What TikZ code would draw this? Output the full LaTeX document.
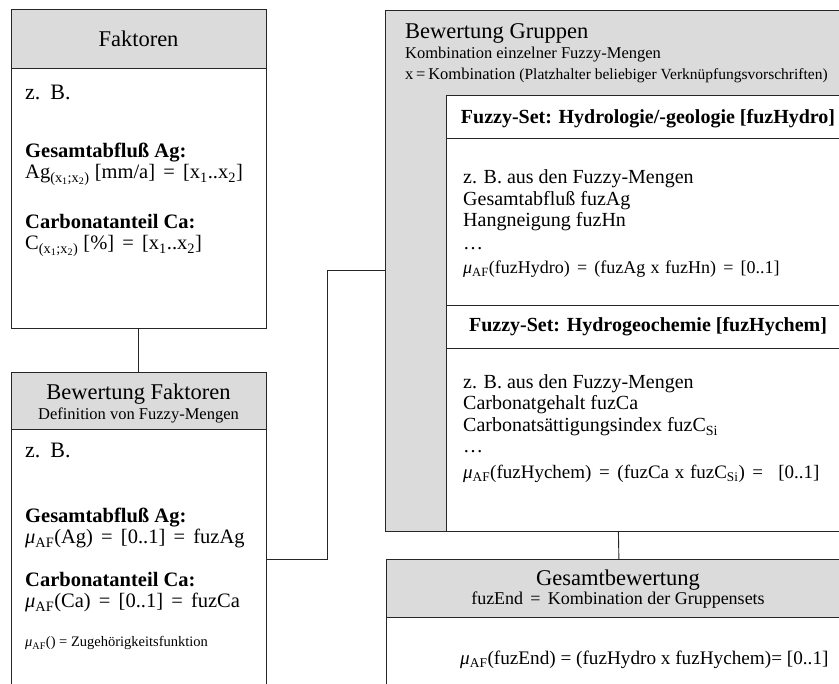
\documentclass[tikz,border=0pt]{standalone}
\usepackage{fontspec}
\setmainfont{Liberation Serif}
\usetikzlibrary{positioning}

\newcommand{\muaf}{\textit{μ}\textsubscript{AF}}
\newcommand{\xrange}{[x\textsubscript{1}..x\textsubscript{2}]}
\newcommand{\xsub}{\textsubscript{(x\textsubscript{1};x\textsubscript{2})}}
\newcommand{\eq}{\hspace{0.4em}=\hspace{0.4em}}
\newcommand{\kx}{\hspace{0.3em}x\hspace{0.3em}}

\begin{document}
\begin{tikzpicture}[x=1pt,y=-1pt,
  box/.style={draw=black!85,line width=0.8pt,anchor=north west,inner sep=0pt},
  headbox/.style={box,fill=black!14},
  setbox/.style={box,fill=white},
  title/.style={anchor=base,inner sep=0pt,font=\fontsize{22.5}{26}\selectfont},
  subtitle/.style={anchor=base,inner sep=0pt,font=\fontsize{16.5}{19}\selectfont},
  line/.style={anchor=base west,inner sep=0pt,font=\fontsize{20.5}{24}\selectfont},
  bline/.style={line,font=\fontsize{20.5}{24}\selectfont\bfseries},
  sline/.style={line,font=\fontsize{20}{24}\selectfont},
  mline/.style={line,font=\fontsize{18}{21}\selectfont},
  tiny/.style={line,font=\fontsize{14.5}{17}\selectfont},
  sethead/.style={anchor=base,inner sep=0pt,font=\fontsize{20}{24}\selectfont\bfseries},
  link/.style={draw=black!85,line width=0.9pt}]

\useasboundingbox (0,0) rectangle (839,684);
\clip (0,0) rectangle (839,684);

% Faktoren
\node[box,minimum width=255pt,minimum height=319pt] (fak) at (11,9) {};
\node[headbox,minimum width=255pt,minimum height=59pt] (fakhead) at (11,9) {};
\node[title] (faktitle) at (138.5,47) {Faktoren};
\node[line,font=\fontsize{22}{26}\selectfont] (fakzb) at (25,100) {z.\hspace{0.45em}B.};
\node[bline] (fakag) at (25,158) {Gesamtabfluß Ag:};
\node[line] (fakagval) at (25,179) {Ag\xsub{} [mm/a]\eq\xrange};
\node[bline] (fakca) at (25,229) {Carbonatanteil Ca:};
\node[line] (fakcaval) at (25,250) {C\xsub{} [\%]\eq\xrange};

% Bewertung Faktoren
\node[box,minimum width=255pt,minimum height=340pt] (bewfak) at (11,372) {};
\node[headbox,minimum width=255pt,minimum height=57pt] (bewfakhead) at (11,372) {};
\node[title] (bewfaktitle) at (138.5,400) {Bewertung Faktoren};
\node[subtitle] (bewfaksub) at (138.5,420) {Definition von Fuzzy-Mengen};
\node[line,font=\fontsize{22}{26}\selectfont] (bewzb) at (25,458) {z.\hspace{0.45em}B.};
\node[bline] (bewag) at (25,523) {Gesamtabfluß Ag:};
\node[line] (bewagval) at (25,544) {\muaf(Ag)\eq[0..1]\eq fuzAg};
\node[bline] (bewca) at (25,587) {Carbonatanteil Ca:};
\node[line] (bewcaval) at (25,608) {\muaf(Ca)\eq[0..1]\eq fuzCa};
\node[tiny] (bewmu) at (25,647) {\muaf() = Zugehörigkeitsfunktion};

% Bewertung Gruppen
\node[headbox,minimum width=466pt,minimum height=521pt] (gruppen) at (385,10) {};
\node[title,anchor=base west] (gruppentitle) at (405,39) {Bewertung Gruppen};
\node[subtitle,anchor=base west] (gruppensub) at (405,59) {Kombination einzelner Fuzzy-Mengen};
\node[subtitle,anchor=base west] (gruppenx) at (405,80)
  {x\,=\,Kombination {\fontsize{15.5}{18}\selectfont(Platzhalter beliebiger Verknüpfungsvorschriften)}};

% Fuzzy-Set Hydrologie
\node[setbox,minimum width=405pt,minimum height=210pt] (hydro) at (446,95) {};
\node[box,minimum width=405pt,minimum height=43pt] (hydrohead) at (446,95) {};
\node[sethead] (hydrotitle) at (648,124) {Fuzzy-Set: Hydrologie/-geologie [fuzHydro]};
\node[sline] (hydrozb) at (463,184) {z. B. aus den Fuzzy-Mengen};
\node[sline] (hydroag) at (463,206) {Gesamtabfluß fuzAg};
\node[sline] (hydrohn) at (463,227) {Hangneigung fuzHn};
\node[sline] (hydrodots) at (463,250) {\dots};
\node[mline] (hydromu) at (463,274) {\muaf(fuzHydro)\eq(fuzAg\kx fuzHn)\eq[0..1]};

% Fuzzy-Set Hydrogeochemie
\node[setbox,minimum width=405pt,minimum height=226pt] (hychem) at (446,305) {};
\node[box,minimum width=405pt,minimum height=43pt] (hychemhead) at (446,305) {};
\node[sethead] (hychemtitle) at (648,332) {Fuzzy-Set: Hydrogeochemie [fuzHychem]};
\node[sline] (hychemzb) at (463,389) {z. B. aus den Fuzzy-Mengen};
\node[sline] (hychemca) at (463,410) {Carbonatgehalt fuzCa};
\node[sline] (hychemsi) at (463,432) {Carbonatsättigungsindex fuzC\textsubscript{Si}};
\node[sline] (hychemdots) at (463,453) {\dots};
\node[mline,font=\fontsize{19}{22}\selectfont] (hychemmu) at (463,479)
  {\muaf(fuzHychem)\eq(fuzCa\kx fuzC\textsubscript{Si})\eq\hspace{0.4em}[0..1]};

% Gesamtbewertung
\node[box,minimum width=465pt,minimum height=150pt] (gesamt) at (386,559) {};
\node[headbox,minimum width=465pt,minimum height=58pt] (gesamthead) at (386,559) {};
\node[title] (gesamttitle) at (618,586) {Gesamtbewertung};
\node[subtitle,font=\fontsize{18}{21}\selectfont] (gesamtsub) at (618,605) {fuzEnd\eq Kombination der Gruppensets};
\node[sline,font=\fontsize{19.2}{23}\selectfont] (gesamtmu) at (460,664)
  {\muaf(fuzEnd) = (fuzHydro x fuzHychem)= [0..1]};

% Verbindungen
\draw[link] (fak.south) -- (bewfak.north);
\draw[link] (bewfak.east |- 0,559) -| (327,270) -- (gruppen.west |- 0,270);
\draw[link] (gruppen.south) -- (gesamt.north);

\end{tikzpicture}
\end{document}
